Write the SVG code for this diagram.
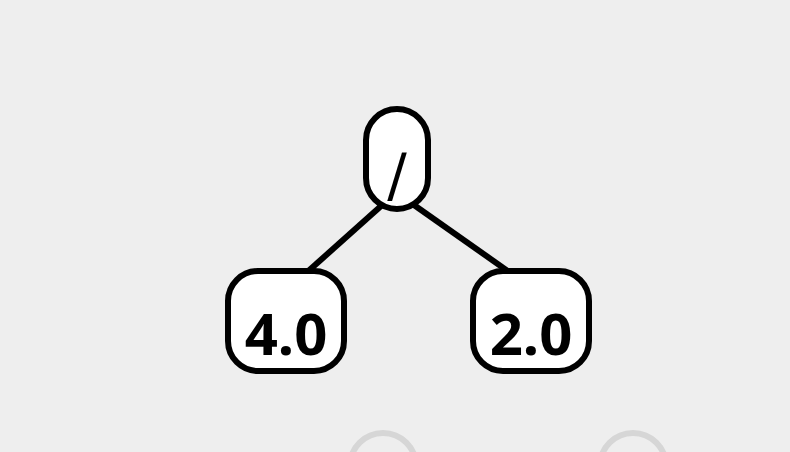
<svg xmlns="http://www.w3.org/2000/svg" width="790" height="452" viewBox="0 0 790 452">
<style>
.node rect{fill:#fff;stroke:#000;stroke-width:6}
.ghost circle{fill:none;stroke:#d6d6d6;stroke-width:6}
.lbl{font-family:"Noto Sans","DejaVu Sans",sans-serif;font-weight:bold;font-size:58px;text-anchor:middle;fill:#000}
.slash{font-family:"DejaVu Sans",sans-serif;font-size:58px;text-anchor:middle;fill:#000}
.edges line{stroke:#000;stroke-width:6}
</style>
<rect width="790" height="452" fill="#eeeeee"/>
<g id="ghosts" class="ghost">
<circle cx="383" cy="466" r="33"/>
<circle cx="633" cy="466" r="33"/>
</g>
<g id="edges" class="edges">
<line x1="390" y1="198" x2="305" y2="274"/>
<line x1="404" y1="198" x2="512" y2="274"/>
</g>
<g id="node-div" class="node">
<rect x="366" y="109" width="62" height="100" rx="31"/>
<text class="slash" x="397" y="196">/</text>
</g>
<g id="node-4" class="node">
<rect x="228" y="271" width="116" height="100" rx="30"/>
<text class="lbl" x="286" y="355">4.0</text>
</g>
<g id="node-2" class="node">
<rect x="473" y="271" width="116" height="100" rx="30"/>
<text class="lbl" x="531" y="355">2.0</text>
</g>
</svg>
